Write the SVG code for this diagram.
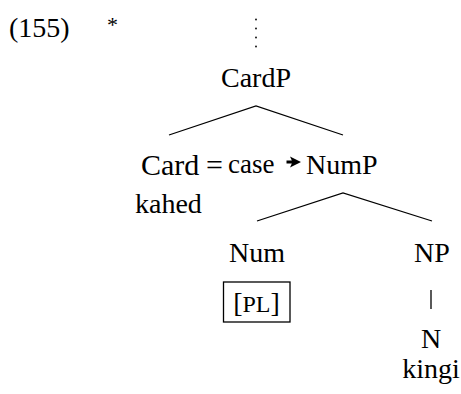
<svg xmlns="http://www.w3.org/2000/svg" width="461" height="394" viewBox="0 0 461 394">
<style>
.m{text-anchor:middle}
.e{stroke:#000;stroke-width:1.3;fill:none}
</style>
<rect width="461" height="394" fill="#fff"/>
<g font-family="'Liberation Serif', 'DejaVu Serif', serif" font-size="28" fill="#000">
<g id="label">
<text x="9" y="37">(155)</text>
<text x="107" y="32" font-size="22">*</text>
</g>
<g id="dots">
<circle cx="256" cy="19.5" r="0.9"/>
<circle cx="256" cy="28.5" r="0.9"/>
<circle cx="256" cy="37.5" r="0.9"/>
<circle cx="256" cy="46.5" r="0.9"/>
</g>
<g id="CardP"><text class="m" x="256" y="87">CardP</text></g>
<g id="Card">
<text x="141" y="175" font-size="30">Card</text>
<text class="m" x="214.5" y="175" font-size="30">=</text>
<text x="228" y="173" font-size="27">case</text>
<path d="M286.5 160.6 H293 V163.4 H286.5 Z M290 156.5 L301 162 L290 167.5 L292.5 162 Z"/>
<text x="135" y="213">kahed</text>
</g>
<g id="NumP"><text x="306" y="174">NumP</text></g>
<g id="Num">
<text class="m" x="257" y="262">Num</text>
<rect x="223.5" y="282" width="66.5" height="40" fill="none" stroke="#000" stroke-width="1.3"/>
<text class="m" x="256.5" y="312">[<tspan font-size="24">PL</tspan>]</text>
</g>
<g id="NP"><text class="m" x="432" y="262">NP</text></g>
<g id="N">
<text class="m" x="431" y="348">N</text>
<text class="m" x="431" y="378">kingi</text>
</g>
</g>
<g id="connectors">
<path class="e" d="M169 135 L256 106 L343 135"/>
<path class="e" d="M257 221 L343 193 L432 221"/>
<path class="e" d="M431 290 L431 309"/>
</g>
</svg>
